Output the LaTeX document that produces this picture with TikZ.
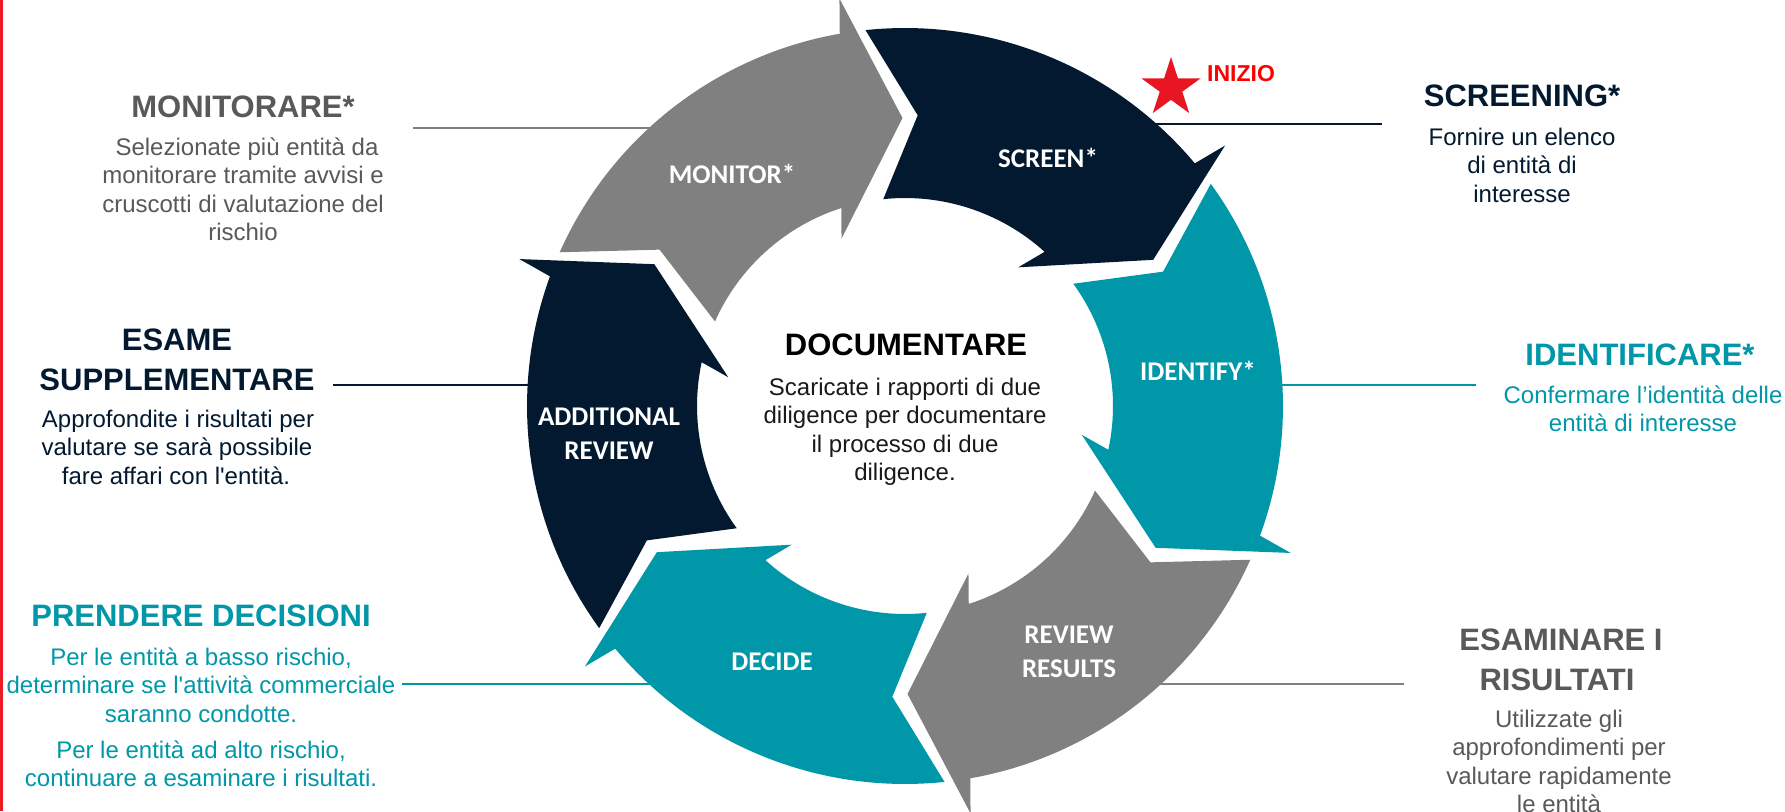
\documentclass[tikz,border=0pt]{standalone}
\usepackage{fontspec}
\setmainfont{Liberation Sans}[Ligatures=TeXOff]
\newfontfamily\lblfont{Carlito}
\definecolor{navy}{RGB}{2,25,48}
\definecolor{teal}{RGB}{0,151,168}
\definecolor{arrowgray}{RGB}{128,128,128}
\definecolor{textgray}{RGB}{89,89,89}
\definecolor{starred}{RGB}{232,22,35}
\definecolor{barred}{RGB}{237,28,36}
\newcommand\ringarrow[2]{%
  \begin{scope}[rotate=#1]
    \fill[#2] (155.5:378) arc[start angle=155.5, end angle=99.44, radius=378pt]
      -- (-62,408) -- (0,288) -- (-62,168) -- (107.35:208)
      arc[start angle=107.35, end angle=155.5, radius=208pt]
      -- (147:291) -- cycle;
  \end{scope}}
\tikzset{
  headtxt/.style={font=\fontsize{31}{37}\selectfont\bfseries, anchor=base, inner sep=0pt},
  bodytxt/.style={font=\fontsize{24}{28}\selectfont, anchor=base, inner sep=0pt},
  lbl/.style={font=\lblfont\fontsize{27}{32}\selectfont\bfseries, text=white, anchor=base, inner sep=0pt},
  conn/.style={line width=2.8pt},
}
\begin{document}
\begin{tikzpicture}[x=1pt, y=-1pt]
\useasboundingbox (0,0) rectangle (1785,811);
\clip (0,0) rectangle (1785,811);
\fill[white] (0,0) rectangle (1785,811);
% red bar at left edge
\fill[barred] (0,0) rectangle (3.3,811);

% connector end points
\coordinate (monA) at (413,128);   \coordinate (monB) at (660,128);
\coordinate (scrA) at (1148,124);  \coordinate (scrB) at (1382,124);
\coordinate (esaA) at (333,385);   \coordinate (esaB) at (532,385);
\coordinate (idnA) at (1280,385);  \coordinate (idnB) at (1476,385);
\coordinate (decA) at (402,684);   \coordinate (decB) at (655,684);
\coordinate (resA) at (1155,684);  \coordinate (resB) at (1404,684);
\draw[conn, arrowgray] (monA) -- (monB);
\draw[conn, navy] (scrA) -- (scrB);
\draw[conn, navy] (esaA) -- (esaB);
\draw[conn, teal] (idnA) -- (idnB);
\draw[conn, teal] (decA) -- (decB);
\draw[conn, arrowgray] (resA) -- (resB);

% ring of arrows
\begin{scope}[shift={(905pt,-406pt)}, x=1pt, y=1pt]
  \ringarrow{0.5}{arrowgray}
  \ringarrow{-59.5}{navy}
  \ringarrow{-119.5}{teal}
  \ringarrow{-179.5}{arrowgray}
  \ringarrow{120.5}{teal}
  \ringarrow{60.5}{navy}
\end{scope}

% arrow labels
\node[lbl] (lmon) at (732,183) {MONITOR*};
\node[lbl] (lscr) at (1048,167) {SCREEN*};
\node[lbl] (lidn) at (1198,380) {IDENTIFY*};
\node[lbl] (lres1) at (1069,643) {REVIEW};
\node[lbl] (lres2) at (1069,677) {RESULTS};
\node[lbl] (ldec) at (772,670) {DECIDE};
\node[lbl] (ladd1) at (609,425) {ADDITIONAL};
\node[lbl] (ladd2) at (609,459) {REVIEW};

% star and INIZIO
\begin{scope}[shift={(1171pt,-88pt)}, x=1pt, y=1pt]
  \fill[starred] (90:31) -- (126:11.84) -- (162:31) -- (198:11.84) -- (234:31)
    -- (270:11.84) -- (306:31) -- (342:11.84) -- (18:31) -- (54:11.84) -- cycle;
\end{scope}
\node[font=\fontsize{23}{27}\selectfont\bfseries, text=red, anchor=base west, inner sep=0pt] (inizio) at (1207,81) {INIZIO};

% center text
\node[headtxt, text=black] (doc0) at (906,355) {DOCUMENTARE};
\node[bodytxt, text=black!90] (doc1) at (905,395) {Scaricate i rapporti di due};
\node[bodytxt, text=black!90] (doc2) at (905,423.5) {diligence per documentare};
\node[bodytxt, text=black!90] (doc3) at (905,452) {il processo di due};
\node[bodytxt, text=black!90] (doc4) at (905,480.5) {diligence.};

% MONITORARE
\node[headtxt, text=textgray] (mon0) at (243,117) {MONITORARE*};
\node[bodytxt, text=textgray] (mon1) at (247,155) {Selezionate più entità da};
\node[bodytxt, text=textgray] (mon2) at (243,183.5) {monitorare tramite avvisi e};
\node[bodytxt, text=textgray] (mon3) at (243,212) {cruscotti di valutazione del};
\node[bodytxt, text=textgray] (mon4) at (243,240.5) {rischio};

% SCREENING
\node[headtxt, text=navy] (scr0) at (1522,106) {SCREENING*};
\node[bodytxt, text=navy] (scr1) at (1522,145) {Fornire un elenco};
\node[bodytxt, text=navy] (scr2) at (1522,173.5) {di entità di};
\node[bodytxt, text=navy] (scr3) at (1522,202) {interesse};

% ESAME SUPPLEMENTARE
\node[headtxt, text=navy] (esa0) at (177,350) {ESAME};
\node[headtxt, text=navy] (esa1) at (177,390) {SUPPLEMENTARE};
\node[bodytxt, text=navy] (esa2) at (178,427) {Approfondite i risultati per};
\node[bodytxt, text=navy] (esa3) at (177,455.5) {valutare se sarà possibile};
\node[bodytxt, text=navy] (esa4) at (176,484) {fare affari con l'entità.};

% IDENTIFICARE
\node[headtxt, text=teal] (idn0) at (1640,365) {IDENTIFICARE*};
\node[bodytxt, text=teal] (idn1) at (1643,403) {Confermare l’identità delle};
\node[bodytxt, text=teal] (idn2) at (1643,431.5) {entità di interesse};

% PRENDERE DECISIONI
\node[headtxt, text=teal] (dec0) at (201,626) {PRENDERE DECISIONI};
\node[bodytxt, text=teal] (dec1) at (201,665) {Per le entità a basso rischio,};
\node[bodytxt, text=teal] (dec2) at (201,693.5) {determinare se l'attività commerciale};
\node[bodytxt, text=teal] (dec3) at (201,722) {saranno condotte.};
\node[bodytxt, text=teal] (dec4) at (201,758) {Per le entità ad alto rischio,};
\node[bodytxt, text=teal] (dec5) at (201,786.5) {continuare a esaminare i risultati.};

% ESAMINARE I RISULTATI
\node[headtxt, text=textgray] (res0) at (1561,650) {ESAMINARE I};
\node[headtxt, text=textgray] (res1) at (1557,690) {RISULTATI};
\node[bodytxt, text=textgray] (res2) at (1559,727) {Utilizzate gli};
\node[bodytxt, text=textgray] (res3) at (1559,755.5) {approfondimenti per};
\node[bodytxt, text=textgray] (res4) at (1559,784) {valutare rapidamente};
\node[bodytxt, text=textgray] (res5) at (1559,812.5) {le entità};
\end{tikzpicture}
\end{document}
